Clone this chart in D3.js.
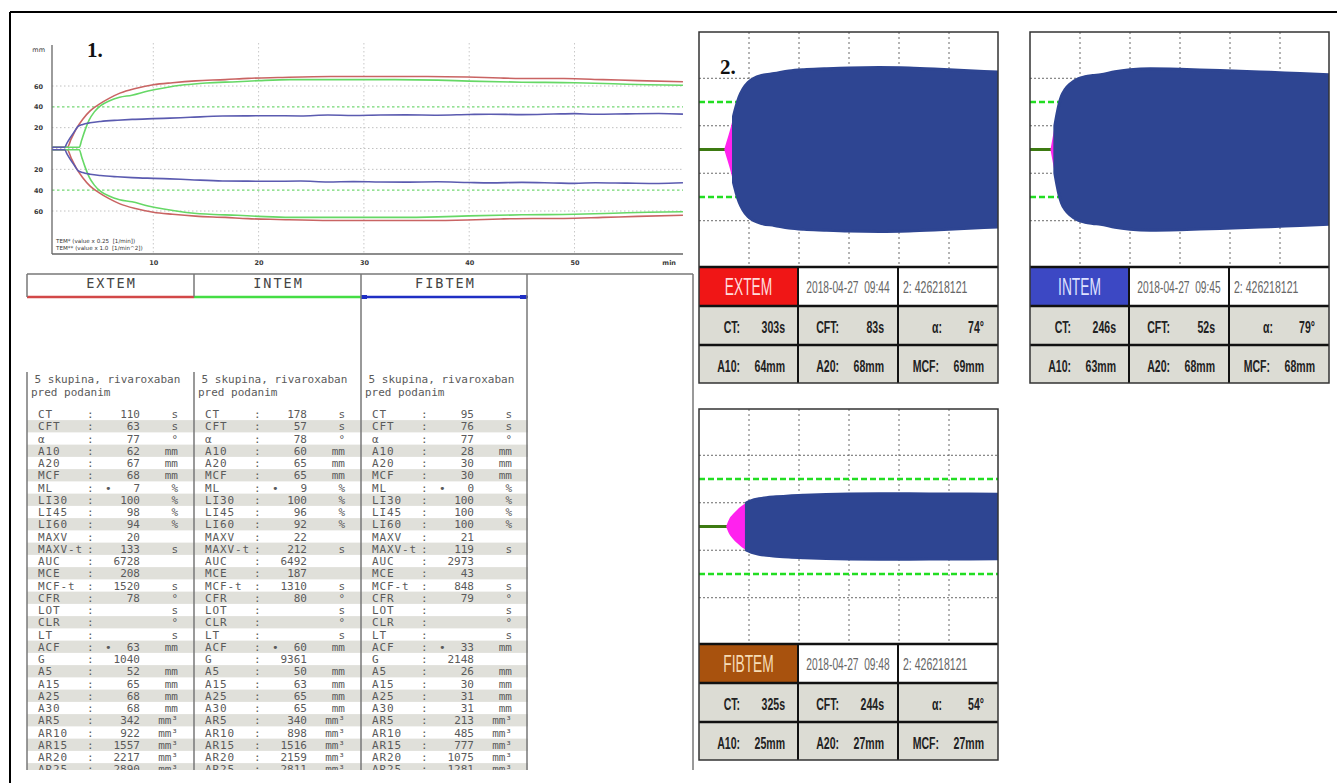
<!DOCTYPE html>
<html>
<head>
<meta charset="utf-8">
<script src="https://cdn.jsdelivr.net/npm/d3@7"></script>
<style>
  body { margin: 0; background: #fff; }
  svg { display: block; }
</style>
</head>
<body>
<svg id="fig" width="1337" height="783"></svg>
<script>
// ---------- Panel 1: TEM traces (time in min, amplitude in mm) ----------
const extemT  = [0, 1.83, 2.2, 2.7, 3.3, 4.0, 4.8, 5.8, 6.83, 8.3, 10, 11.83, 14, 16.83, 19, 21.83, 26.83, 31.83, 36, 39.8, 43, 46, 49, 52.7, 56, 60.3];
const extemA  = [0, 0, 8, 18, 27, 35, 41, 47, 52, 56.5, 60, 62, 63.8, 65, 66.2, 67, 68, 68, 68, 67.5, 66.5, 66, 66, 65, 64, 63];
const intemT  = [0, 2.97, 3.2, 3.5, 3.9, 4.4, 5.0, 5.8, 6.8, 7.97, 9.5, 11, 12.97, 15, 17.97, 20, 22.97, 27.97, 32.97, 37, 40, 45, 50, 53.7, 57, 60.3];
const intemA  = [0, 0, 7, 16, 26, 34, 40, 44.5, 48, 50, 54, 57, 60, 61.8, 63, 64, 65, 65, 65, 64.5, 63.5, 62.5, 62, 61, 60, 59.5];
const fibtemT = [0, 1.58, 1.8, 2.1, 2.5, 2.85, 3.3, 4, 5, 6.58, 8, 10, 11.58, 13.5, 16.58, 19, 21.58, 24, 26.58, 29, 31.58, 34, 37, 40, 42, 45, 48, 50, 52, 55, 58, 60.3];
const fibtemA = [0, 0, 4, 9, 15, 20, 22, 23.5, 24.8, 26, 26.8, 27.5, 28, 28.8, 30, 30.2, 30.3, 30.1, 31, 30.6, 31, 31.1, 30.8, 31.5, 31.8, 31.4, 31.9, 32.3, 31.7, 32.1, 32.4, 31.8];

const timeTicks = [10, 20, 30, 40, 50];
const ampTicks = [-60, -40, -20, 20, 40, 60];
const legendLines = ["TEM* (value x 0.25  [1/min])", "TEM** (value x 1.0  [1/min^2])"];

// ---------- Results table ----------
const assayNames = ["EXTEM", "INTEM", "FIBTEM"];
const sampleNote = [" 5 skupina, rivaroxaban", "pred podanim"];
const paramLabels = ["CT", "CFT", "α", "A10", "A20", "MCF", "ML", "LI30", "LI45", "LI60", "MAXV", "MAXV-t", "AUC", "MCE", "MCF-t", "CFR", "LOT", "CLR", "LT", "ACF", "G", "A5", "A15", "A25", "A30", "AR5", "AR10", "AR15", "AR20", "AR25"];
const paramUnits = ["s", "s", "°", "mm", "mm", "mm", "%", "%", "%", "%", "", "s", "", "", "s", "°", "s", "°", "s", "mm", "", "mm", "mm", "mm", "mm", "mm³", "mm³", "mm³", "mm³", "mm³"];
const extemValues  = [110, 63, 77, 62, 67, 68, 7, 100, 98, 94, 20, 133, 6728, 208, 1520, 78, null, null, null, 63, 1040, 52, 65, 68, 68, 342, 922, 1557, 2217, 2890];
const intemValues  = [178, 57, 78, 60, 65, 65, 9, 100, 96, 92, 22, 212, 6492, 187, 1310, 80, null, null, null, 60, 9361, 50, 63, 65, 65, 340, 898, 1516, 2159, 2811];
const fibtemValues = [95, 76, 77, 28, 30, 30, 0, 100, 100, 100, 21, 119, 2973, 43, 848, 79, null, null, null, 33, 2148, 26, 30, 31, 31, 213, 485, 777, 1075, 1281];
const flaggedParams = ["ML", "ACF"];

// ---------- Panel 2: device result cards ----------
const cardNames = ["EXTEM", "INTEM", "FIBTEM"];
const cardStamps = ["2018-04-27  09:44", "2018-04-27  09:45", "2018-04-27  09:48"];
const cardIds = ["2: 426218121", "2: 426218121", "2: 426218121"];
const cardCT  = [303, 246, 325];   // s
const cardCFT = [83, 52, 244];     // s
const cardAlpha = [74, 79, 54];    // °
const cardA10 = [64, 63, 25];      // mm
const cardA20 = [68, 68, 27];      // mm
const cardMCF = [69, 68, 27];      // mm

const extemCardT  = [5.05, 5.5, 6.0, 6.43, 6.9, 7.4, 8.0, 8.8, 9.8, 11, 12.5, 15.05, 18, 21, 25.05, 30, 36, 42, 48, 54, 60];
const extemCardA  = [0, 6.5, 13.5, 20, 28, 36, 44, 51, 56.5, 60, 62.3, 64, 66.2, 67.3, 68, 68.7, 69, 68.6, 67.6, 66.4, 65.2];
const intemCardT  = [4.1, 4.5, 4.97, 5.4, 5.8, 6.3, 7.0, 8.0, 9.6, 11, 12.5, 14.1, 17, 20, 24.1, 30, 36, 42, 48, 54, 60];
const intemCardA  = [0, 9.5, 20, 30, 38, 45, 50.5, 55, 59.5, 61.3, 62.3, 63, 65.6, 67.2, 68, 67.6, 66.8, 66, 65, 64, 63];
const fibtemCardT = [5.42, 6.0, 6.8, 7.6, 8.5, 9.49, 10.5, 12, 13.5, 15.42, 18, 21, 25.42, 30, 36, 42, 48, 54, 60];
const fibtemCardA = [0, 6, 10.5, 14, 17.3, 20, 21.8, 23.3, 24.3, 25, 25.8, 26.4, 27, 27.3, 27.5, 27.5, 27.4, 27.3, 27.2];

// ======================================================================
const svg = d3.select("#fig");
const serif = "'Liberation Serif','DejaVu Serif',serif";
const mono = "'DejaVu Sans Mono','Liberation Mono',monospace";
const sans = "'Liberation Sans','Arial',sans-serif";

// narrow text: regular face squeezed horizontally
function narrowText(parent, x, y, str, opt) {
  return parent.append("text")
    .attr("transform", `translate(${x},${y}) scale(${opt.sx || 0.62},1)`)
    .attr("text-anchor", opt.anchor || "start")
    .attr("font-family", sans)
    .attr("font-size", opt.size)
    .attr("font-weight", opt.weight || "normal")
    .attr("fill", opt.fill)
    .style("white-space", "pre")
    .text(str);
}

// outer frame
svg.append("line").attr("x1", 10).attr("x2", 1337).attr("y1", 12).attr("y2", 12)
  .attr("stroke", "#000").attr("stroke-width", 2);
svg.append("line").attr("x1", 10).attr("x2", 10).attr("y1", 12).attr("y2", 783)
  .attr("stroke", "#000").attr("stroke-width", 2);

// ---------------- Panel 1 chart ----------------
const p1 = { left: 52, right: 683, top: 45, bottom: 254 };
const x1 = d3.scaleLinear().domain([0, 60]).range([48, 679.8]);
const y1 = d3.scaleLinear().domain([-60, 60]).range([211, 86]);
const g1 = svg.append("g");
const defs = svg.append("defs");

defs.append("clipPath").attr("id", "clip1")
  .append("rect").attr("x", p1.left).attr("y", p1.top).attr("width", p1.right - p1.left).attr("height", p1.bottom - p1.top);

// grid
g1.selectAll("line.vgrid").data(timeTicks).join("line")
  .attr("x1", d => x1(d)).attr("x2", d => x1(d)).attr("y1", p1.top - 2).attr("y2", p1.bottom)
  .attr("stroke", "#c8c8c8").attr("stroke-width", 1).attr("stroke-dasharray", "1.5,2.5");
g1.selectAll("line.hgrid").data([-60, -40, -20, 0, 20, 40, 60]).join("line")
  .attr("x1", p1.left).attr("x2", p1.right).attr("y1", d => y1(d)).attr("y2", d => y1(d))
  .attr("stroke", d => Math.abs(d) === 40 ? "#74d874" : "#c0c0c0")
  .attr("stroke-width", d => Math.abs(d) === 40 ? 1.2 : 1)
  .attr("stroke-dasharray", d => Math.abs(d) === 40 ? "2.5,2.5" : "1.5,2.5");

// axes
const xAxis1 = g1.append("g").attr("transform", `translate(0,${p1.bottom})`)
  .call(d3.axisBottom(x1).tickValues(timeTicks).tickSize(0).tickPadding(6));
const yAxis1 = g1.append("g").attr("transform", `translate(${p1.left},0)`)
  .call(d3.axisLeft(y1).tickValues(ampTicks).tickSize(0).tickPadding(9).tickFormat(d => Math.abs(d)));
[xAxis1, yAxis1].forEach(a => {
  a.select(".domain").remove();
  a.selectAll("text").attr("font-family", "'DejaVu Sans',sans-serif").attr("font-size", 6.5)
    .attr("font-weight", "bold").attr("fill", "#3a3a3a");
});
g1.append("line").attr("x1", p1.left).attr("x2", p1.left).attr("y1", p1.top).attr("y2", p1.bottom)
  .attr("stroke", "#666").attr("stroke-width", 1.3);
g1.append("line").attr("x1", p1.left).attr("x2", p1.right).attr("y1", p1.bottom).attr("y2", p1.bottom)
  .attr("stroke", "#666").attr("stroke-width", 1.3);
g1.append("text").attr("x", 45).attr("y", 52).attr("text-anchor", "end")
  .attr("font-family", "'DejaVu Sans',sans-serif").attr("font-size", 6.5).attr("fill", "#333").text("mm");
g1.append("text").attr("x", 676).attr("y", 265).attr("text-anchor", "end")
  .attr("font-family", "'DejaVu Sans',sans-serif").attr("font-size", 6.5).attr("font-weight", "bold").attr("fill", "#3a3a3a").text("min");

// traces
const traces = [
  { t: extemT, a: extemA, color: "#c96463" },
  { t: intemT, a: intemA, color: "#66d866" },
  { t: fibtemT, a: fibtemA, color: "#5b5bb0" }
];
const lineUp = d3.line().x(d => x1(d[0])).y(d => y1(d[1]) - 1.2).curve(d3.curveMonotoneX);
const lineDn = d3.line().x(d => x1(d[0])).y(d => y1(-d[1]) + 1.2).curve(d3.curveMonotoneX);
const gTr = g1.append("g").attr("clip-path", "url(#clip1)");
traces.forEach(s => {
  const pts = s.t.map((t, i) => [t, s.a[i]]);
  gTr.append("path").datum(pts).attr("d", lineUp).attr("fill", "none").attr("stroke", s.color).attr("stroke-width", 1.6);
  gTr.append("path").datum(pts).attr("d", lineDn).attr("fill", "none").attr("stroke", s.color).attr("stroke-width", 1.6);
});

// legend note
legendLines.forEach((s, i) => {
  g1.append("text").attr("x", 56).attr("y", 243 + i * 6.5)
    .attr("font-family", "'DejaVu Sans',sans-serif").attr("font-size", 5.6).attr("fill", "#333").style("white-space", "pre").text(s);
});
g1.append("text").attr("x", 87).attr("y", 57).attr("font-family", serif).attr("font-weight", "bold")
  .attr("font-size", 21).attr("fill", "#111").text("1.");

// ---------------- Results table ----------------
const colX = [27, 194, 361];
const colW = 167;
const hdrTop = 274, hdrBot = 297;
const tblTop = 372, tblBot = 770;
const row0 = 414, rowStep = 12.25;
const gT = svg.append("g");
const colValues = [extemValues, intemValues, fibtemValues];
const underline = ["#d24848", "#44dd44", "#1f2fc4"];

defs.append("clipPath").attr("id", "clipT")
  .append("rect").attr("x", 20).attr("y", tblTop).attr("width", 520).attr("height", tblBot - tblTop);

// header frame
gT.append("line").attr("x1", 27).attr("x2", 693).attr("y1", hdrTop).attr("y2", hdrTop).attr("stroke", "#777").attr("stroke-width", 1.5);
gT.append("line").attr("x1", 693).attr("x2", 693).attr("y1", hdrTop).attr("y2", tblBot).attr("stroke", "#777").attr("stroke-width", 1.5);
assayNames.forEach((name, c) => {
  const cx = colX[c];
  gT.append("text").attr("x", cx + colW / 2 + 1).attr("y", 288).attr("text-anchor", "middle")
    .attr("font-family", mono).attr("font-size", 13.5).attr("letter-spacing", 2).attr("fill", "#444").text(name);
  gT.append("line").attr("x1", cx).attr("x2", cx + colW).attr("y1", hdrBot).attr("y2", hdrBot)
    .attr("stroke", underline[c]).attr("stroke-width", 2.5);
});
gT.append("rect").attr("x", 361).attr("y", 295).attr("width", 6).attr("height", 4).attr("fill", underline[2]);
gT.append("rect").attr("x", 520).attr("y", 295).attr("width", 7).attr("height", 4).attr("fill", underline[2]);

// table body
const gB = gT.append("g").attr("clip-path", "url(#clipT)");
colValues.forEach((vals, c) => {
  const cx = colX[c];
  paramLabels.forEach((lab, i) => {
    const cy = row0 + i * rowStep;
    if (i % 2 === 1) {
      gB.append("rect").attr("x", cx).attr("y", cy - rowStep / 2).attr("width", colW).attr("height", rowStep).attr("fill", "#e0e0da");
    }
    const txt = (x, s, anchor, extra) => {
      const t = gB.append("text").attr("x", x).attr("y", cy + 4).attr("text-anchor", anchor)
        .attr("font-family", mono).attr("font-size", 11).attr("fill", "#5a5a5a").text(s);
      if (extra) t.attr("letter-spacing", extra);
      return t;
    };
    txt(cx + 11, lab, "start", 0.9);
    txt(cx + 60, ":", "start");
    if (vals[i] !== null) txt(cx + 113, vals[i], "end");
    if (flaggedParams.includes(lab)) txt(cx + 78, "•", "start");
    if (paramUnits[i]) txt(cx + 151, paramUnits[i], "end");
  });
  sampleNote.forEach((s, k) => {
    gB.append("text").attr("x", cx + (k === 0 ? 1 : 4)).attr("y", 383 + k * 13)
      .attr("font-family", mono).attr("font-size", 11).attr("fill", "#5a5a5a")
      .style("white-space", "pre").text(s);
  });
});
// column rules
[27, 194, 361, 527].forEach(x => {
  gT.append("line").attr("x1", x).attr("x2", x).attr("y1", hdrTop).attr("y2", hdrBot).attr("stroke", "#777").attr("stroke-width", 1.5);
  gT.append("line").attr("x1", x).attr("x2", x).attr("y1", (x >= 361 ? hdrBot : tblTop)).attr("y2", tblBot).attr("stroke", "#777").attr("stroke-width", 1.5);
});

// ---------------- Panel 2 cards ----------------
const cardColors = ["#f01616", "#3c48c4", "#a8520e"];
const cardTextColors = ["#ffdcdc", "#dfe2ff", "#f6dcb6"];
const cardCurves = [[extemCardT, extemCardA], [intemCardT, intemCardA], [fibtemCardT, fibtemCardA]];
const cardPos = [[699, 32], [1030, 32], [699, 409]];

function drawCard(k) {
  const [px, py] = cardPos[k];
  const W = 299, GH = 235, rows = [39, 39, 38];
  const xs = d3.scaleLinear().domain([0, 60]).range([px, px + 300]);
  const ys = d3.scaleLinear().domain([-99, 99]).range([py + GH, py]);
  const g = svg.append("g");
  const cid = "clipC" + k;
  defs.append("clipPath").attr("id", cid)
    .append("rect").attr("x", px).attr("y", py).attr("width", W).attr("height", GH);
  const gg = g.append("g").attr("clip-path", `url(#${cid})`);
  gg.append("rect").attr("x", px).attr("y", py).attr("width", W).attr("height", GH).attr("fill", "#fff");

  // grid
  gg.selectAll("line.v").data([10, 20, 30, 40, 50]).join("line")
    .attr("x1", d => xs(d)).attr("x2", d => xs(d)).attr("y1", py).attr("y2", py + GH)
    .attr("stroke", "#6a6a6a").attr("stroke-width", 1).attr("stroke-dasharray", "2,3");
  gg.selectAll("line.h").data([-60, -20, 20, 60]).join("line")
    .attr("x1", px).attr("x2", px + W).attr("y1", d => ys(d)).attr("y2", d => ys(d))
    .attr("stroke", "#6a6a6a").attr("stroke-width", 1).attr("stroke-dasharray", "2,2");
  gg.selectAll("line.g").data([-40, 40]).join("line")
    .attr("x1", px).attr("x2", px + W).attr("y1", d => ys(d)).attr("y2", d => ys(d))
    .attr("stroke", "#22dd22").attr("stroke-width", 2.5).attr("stroke-dasharray", "6,3");

  const ct = cardCT[k] / 60, cftEnd = (cardCT[k] + cardCFT[k]) / 60;
  // baseline before clotting starts
  gg.append("line").attr("x1", px).attr("x2", xs(ct) + 1).attr("y1", ys(0)).attr("y2", ys(0))
    .attr("stroke", "#3d7a12").attr("stroke-width", 3);

  const [T, A] = cardCurves[k];
  const pts = T.map((t, i) => [t, A[i]]);
  const area = d3.area().x(d => xs(d[0])).y0(d => ys(-d[1])).y1(d => ys(d[1])).curve(d3.curveMonotoneX);
  const cut = pts.findIndex(d => d[0] >= cftEnd - 1e-6);
  gg.append("path").datum(pts.slice(0, cut + 2)).attr("d", area).attr("fill", "#ff22ee");
  gg.append("path").datum(pts.slice(cut)).attr("d", area).attr("fill", "#2e4592")
    .attr("stroke", "#2e4592").attr("stroke-width", 3).attr("stroke-linejoin", "round");

  // result rows
  const r0 = py + GH, r1 = r0 + rows[0], r2 = r1 + rows[1], r3 = r2 + rows[2];
  const cw = [0, 99, 199, 299];
  g.append("rect").attr("x", px).attr("y", r0).attr("width", 99).attr("height", rows[0]).attr("fill", cardColors[k]);
  g.append("rect").attr("x", px + 99).attr("y", r0).attr("width", 200).attr("height", rows[0]).attr("fill", "#fff");
  g.append("rect").attr("x", px).attr("y", r1).attr("width", W).attr("height", rows[1] + rows[2]).attr("fill", "#dcdcd4");

  narrowText(g, px + 49.5, r0 + 28, cardNames[k], { anchor: "middle", size: 23, sx: 0.6, fill: cardTextColors[k] });
  narrowText(g, px + 149, r0 + 26, cardStamps[k], { anchor: "middle", size: 17, sx: 0.6, fill: "#666" });
  narrowText(g, px + 204, r0 + 26, cardIds[k], { size: 17, sx: 0.62, fill: "#666" });

  const stats = [
    [["CT:", cardCT[k] + "s"], ["CFT:", cardCFT[k] + "s"], ["α:", cardAlpha[k] + "°"]],
    [["A10:", cardA10[k] + "mm"], ["A20:", cardA20[k] + "mm"], ["MCF:", cardMCF[k] + "mm"]]
  ];
  stats.forEach((row, ri) => {
    const ry = ri === 0 ? r1 : r2;
    row.forEach(([lab, val], ci) => {
      const cx = px + cw[ci];
      const lx = ci === 2 && ri === 0 ? 44 : 41;
      narrowText(g, cx + lx, ry + 26.5, lab, { anchor: "end", size: 17, sx: 0.62, weight: "bold", fill: "#222" });
      narrowText(g, cx + 86, ry + 26.5, val, { anchor: "end", size: 17, sx: 0.62, weight: "bold", fill: "#222" });
    });
  });

  // rules
  [r0, r1, r2].forEach(y => g.append("line").attr("x1", px).attr("x2", px + W).attr("y1", y).attr("y2", y).attr("stroke", "#111").attr("stroke-width", 2.5));
  [99, 199].forEach(x => g.append("line").attr("x1", px + x).attr("x2", px + x).attr("y1", r0).attr("y2", r3).attr("stroke", "#111").attr("stroke-width", 2));
  g.append("rect").attr("x", px).attr("y", py).attr("width", W).attr("height", r3 - py)
    .attr("fill", "none").attr("stroke", "#333").attr("stroke-width", 1.5);
}
[0, 1, 2].forEach(drawCard);

svg.append("text").attr("x", 720).attr("y", 74).attr("font-family", serif).attr("font-weight", "bold")
  .attr("font-size", 21).attr("fill", "#111").text("2.");
</script>
</body>
</html>
